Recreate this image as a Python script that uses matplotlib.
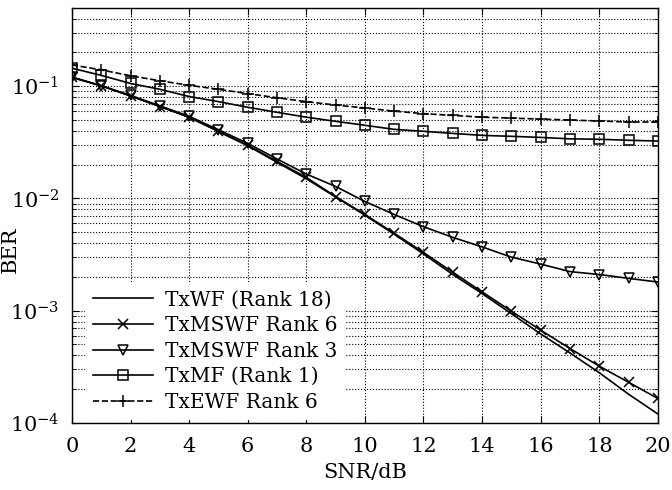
import numpy as np
import matplotlib
matplotlib.use("Agg")
import matplotlib.pyplot as plt
from matplotlib.ticker import LogLocator, NullFormatter

plt.rcParams['font.family'] = ['DejaVu Serif']
plt.rcParams['mathtext.fontset'] = 'dejavuserif'

snr = np.arange(0, 21)

# BER curves
ber_wf = [0.120, 0.101, 0.082, 0.066, 0.053, 0.0395, 0.0295, 0.0210, 0.0150, 0.0103, 0.0071,
          0.0048, 0.0032, 0.0021, 0.00142, 0.00094, 0.00062, 0.00042, 0.00028, 0.00018, 0.00012]
ber_mswf6 = [0.120, 0.101, 0.082, 0.066, 0.053, 0.0397, 0.0298, 0.0214, 0.0154, 0.0104, 0.0072,
             0.0049, 0.0033, 0.0022, 0.00147, 0.00099, 0.00067, 0.00046, 0.00032, 0.00023, 0.000165]
ber_mswf3 = [0.121, 0.101, 0.083, 0.067, 0.054, 0.041, 0.031, 0.0225, 0.0165, 0.0128, 0.0094,
             0.0072, 0.0056, 0.0045, 0.0037, 0.0030, 0.0026, 0.00223, 0.0021, 0.00194, 0.0018]
ber_mf = [0.145, 0.125, 0.106, 0.094, 0.081, 0.073, 0.065, 0.0586, 0.053, 0.0487, 0.0449,
          0.0413, 0.0397, 0.038, 0.0365, 0.0358, 0.035, 0.034, 0.0337, 0.033, 0.0325]
ber_ewf = [0.155, 0.140, 0.124, 0.112, 0.102, 0.094, 0.086, 0.079, 0.073, 0.068, 0.064,
           0.060, 0.057, 0.055, 0.053, 0.052, 0.051, 0.050, 0.049, 0.048, 0.048]

labels = ["TxWF (Rank 18)", "TxMSWF Rank 6", "TxMSWF Rank 3", "TxMF (Rank 1)", "TxEWF Rank 6"]

fig = plt.figure(figsize=(6.72, 4.9), dpi=100)
ax = fig.add_axes([0.107, 0.137, 0.872, 0.847])

lw = 1.2
ax.semilogy(snr, ber_wf, 'k-', lw=lw, label=labels[0])
ax.semilogy(snr, ber_mswf6, 'k-', lw=lw, marker='x', ms=7, mew=1.1, label=labels[1])
ax.semilogy(snr, ber_mswf3, 'k-', lw=lw, marker='v', ms=6.5, mfc='none', mew=1.1, label=labels[2])
ax.semilogy(snr, ber_mf, 'k-', lw=lw, marker='s', ms=7.5, mfc='none', mew=1.1, label=labels[3])
ax.semilogy(snr, ber_ewf, 'k--', lw=lw, marker='+', ms=8, mew=1.1, label=labels[4])

ax.set_xlim(0, 20)
ax.set_ylim(1e-4, 0.5)
ax.set_xticks(np.arange(0, 21, 2))
ax.yaxis.set_major_locator(LogLocator(base=10, numticks=10))
ax.yaxis.set_minor_locator(LogLocator(base=10, subs=np.arange(2, 10), numticks=20))
ax.yaxis.set_minor_formatter(NullFormatter())

ax.grid(True, which='major', axis='both', color='k', ls=':', lw=0.8)
ax.grid(True, which='minor', axis='y', color='k', ls=':', lw=0.8)
ax.tick_params(which='both', direction='in', top=True, right=True, labelsize=15)
ax.tick_params(which='major', length=5)
ax.tick_params(which='minor', length=3)
ax.tick_params(axis='x', which='major', pad=10)
ax.tick_params(axis='y', which='major', pad=9)
for s in ax.spines.values():
    s.set_linewidth(1.0)

ax.set_xlabel("SNR/dB", fontsize=15, labelpad=5)
ax.set_ylabel("BER", fontsize=15)
ax.yaxis.set_label_coords(-0.089, 0.417)

leg = ax.legend(loc='lower left', fontsize=14.5, frameon=True, fancybox=False,
                handlelength=3.0, handletextpad=0.6, labelspacing=0.33,
                borderpad=0.4, borderaxespad=0, bbox_to_anchor=(0.022, 0.007))
leg.get_frame().set_edgecolor('none')
leg.get_frame().set_facecolor('white')
leg.get_frame().set_alpha(1.0)

fig.savefig("out.png", dpi=100)
